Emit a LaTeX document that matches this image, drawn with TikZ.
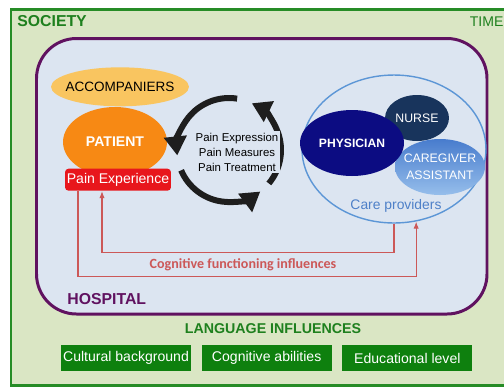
\documentclass[tikz,border=0pt]{standalone}
\usepackage{fontspec}
\setmainfont{Liberation Sans}
\newfontfamily\calfont{Carlito}
\usetikzlibrary{shapes.geometric, arrows.meta, positioning, calc}
\definecolor{cSociety}{RGB}{218,230,196}
\definecolor{cSocLine}{RGB}{38,140,38}
\definecolor{cGreenTxt}{RGB}{30,128,30}
\definecolor{cHospital}{RGB}{220,229,241}
\definecolor{cPurple}{RGB}{96,18,96}
\definecolor{cAccomp}{RGB}{249,197,96}
\definecolor{cPatient}{RGB}{247,137,20}
\definecolor{cPainRed}{RGB}{232,22,28}
\definecolor{cPhysician}{RGB}{12,12,130}
\definecolor{cNurse}{RGB}{24,52,92}
\definecolor{cCareTop}{RGB}{72,124,205}
\definecolor{cCareBot}{RGB}{150,190,235}
\definecolor{cCareLine}{RGB}{92,150,214}
\definecolor{cCareText}{RGB}{78,128,200}
\definecolor{cCogRed}{RGB}{204,88,88}
\definecolor{cLangBox}{RGB}{14,128,14}
\definecolor{cCycle}{RGB}{30,30,30}
\tikzset{
	actor/.style   ={ellipse, inner sep=0pt, align=center},
	painbox/.style ={rectangle, rounded corners=2pt, fill=cPainRed, text=white, minimum width=2.12cm, minimum height=0.44cm, inner sep=0pt, font=\fontsize{8}{9}\selectfont},
	langbox/.style ={rectangle, fill=cLangBox, text=white, minimum width=2.6cm, minimum height=0.52cm, inner sep=0pt, font=\fontsize{8}{9}\selectfont},
	cycarrow/.style={-{Triangle[length=0.38cm, width=0.44cm]}, line width=0.12cm, cCycle},
	cogline/.style ={-{Latex[length=4pt, width=3pt]}, cCogRed, line width=0.6pt},
	heading/.style ={font=\bfseries\fontsize{9}{10}\selectfont, inner sep=0pt, anchor=west},
}

\begin{document}
\begin{tikzpicture}[x=0.02cm, y=-0.02cm,
					every node/.style={font=\fontsize{7}{8.4}\selectfont},
					frame/.style={line width=1.7pt}]
	\useasboundingbox (0,0) rectangle (504,387);
	\clip (0,0) rectangle (504,387);
	\fill[white] (0,0) rectangle (504,387);
	% society and hospital frames
	\draw[frame, draw=cSocLine, fill=cSociety] (11,9.5) rectangle (520,385.5);
	\node[heading, text=cGreenTxt] (society) at (17,21.5) {SOCIETY};
	\node[heading, font=\fontsize{8}{9}\selectfont, text=cGreenTxt] (time) at (469.5,22) {TIME};
	\draw[frame, draw=cPurple, fill=cHospital, rounded corners=0.8cm] (36.5,38.5) rectangle (487,314);
	\node[heading, text=cPurple] (hospital) at (67,299) {HOSPITAL};
	% patient side
	\node[actor, fill=cPatient, minimum width=2.08cm, minimum height=1.4cm, text=white, font=\bfseries\fontsize{8}{9}\selectfont] (patient) at (115,142) {PATIENT};
	\node[actor, fill=cAccomp, minimum width=2.76cm, minimum height=0.78cm, inner xsep=-4pt, font=\fontsize{7.7}{9}\selectfont, above=0pt of patient, xshift=0.1cm] (accomp) {ACCOMPANIERS};
	\node[painbox, below=-0.18cm of patient, xshift=0.06cm] (painexp) {Pain Experience};
	% cycle in the middle
	\coordinate (cyc) at (229,150);
	\draw[cycarrow] (cyc) ++(-81:52) arc[start angle=-81, end angle=-186, radius=52];
	\draw[cycarrow] (cyc) ++(157:52) arc[start angle=157, end angle=53, radius=52];
	\draw[cycarrow] (cyc) ++(40:52) arc[start angle=40, end angle=-64, radius=52];
	\node[align=center, fill=cHospital, inner sep=1pt, font=\fontsize{6.5}{8.5}\selectfont] (cyctext) at (237,152) {Pain Expression\\Pain Measures\\Pain Treatment};
	% care providers
	\node[ellipse, draw=cCareLine, line width=0.8pt, minimum width=3.68cm, minimum height=2.96cm] (care) at (394,149) {};
	\node[actor, fill=cNurse, minimum width=1.28cm, minimum height=0.92cm, text=white] (nurse) at (417,118) {NURSE};
	\node[actor, top color=cCareTop, bottom color=cCareBot, minimum width=1.8cm, minimum height=1.12cm, inner xsep=-3pt, text=white, font=\fontsize{7}{9.6}\selectfont] (caregiver) at (440,167) {CAREGIVER\\ASSISTANT};
	\node[actor, fill=cPhysician, minimum width=2.08cm, minimum height=1.32cm, text=white, font=\bfseries\fontsize{6.9}{8}\selectfont] (physician) at (352,143) {PHYSICIAN};
	\node[text=cCareText, font=\fontsize{7.9}{9}\selectfont] (carelbl) at (396,206) {Care providers};
	% cognitive functioning
	\draw[cogline] (care.south) -- ++(0,29) -| ($(painexp.south)+(-16,0)$);
	\draw[cogline] ($(painexp.south)+(-40,0)$) -- ++(0,85) -| (care.287);
	\node[text=cCogRed, font=\calfont\bfseries\fontsize{8}{9}\selectfont] (coglbl) at (243,265) {Cognitive functioning influences};
	% language
	\node[heading, anchor=center, text=cGreenTxt, font=\bfseries\fontsize{8.1}{9}\selectfont] (langinf) at (273,329) {LANGUAGE INFLUENCES};
	\node[langbox] (cultural) at (126,358) {Cultural background};
	\node[langbox, right=0.2cm of cultural] (cognitive) {Cognitive abilities};
	\node[langbox, right=0.2cm of cognitive] (educational) {Educational level};
\end{tikzpicture}
\end{document}
